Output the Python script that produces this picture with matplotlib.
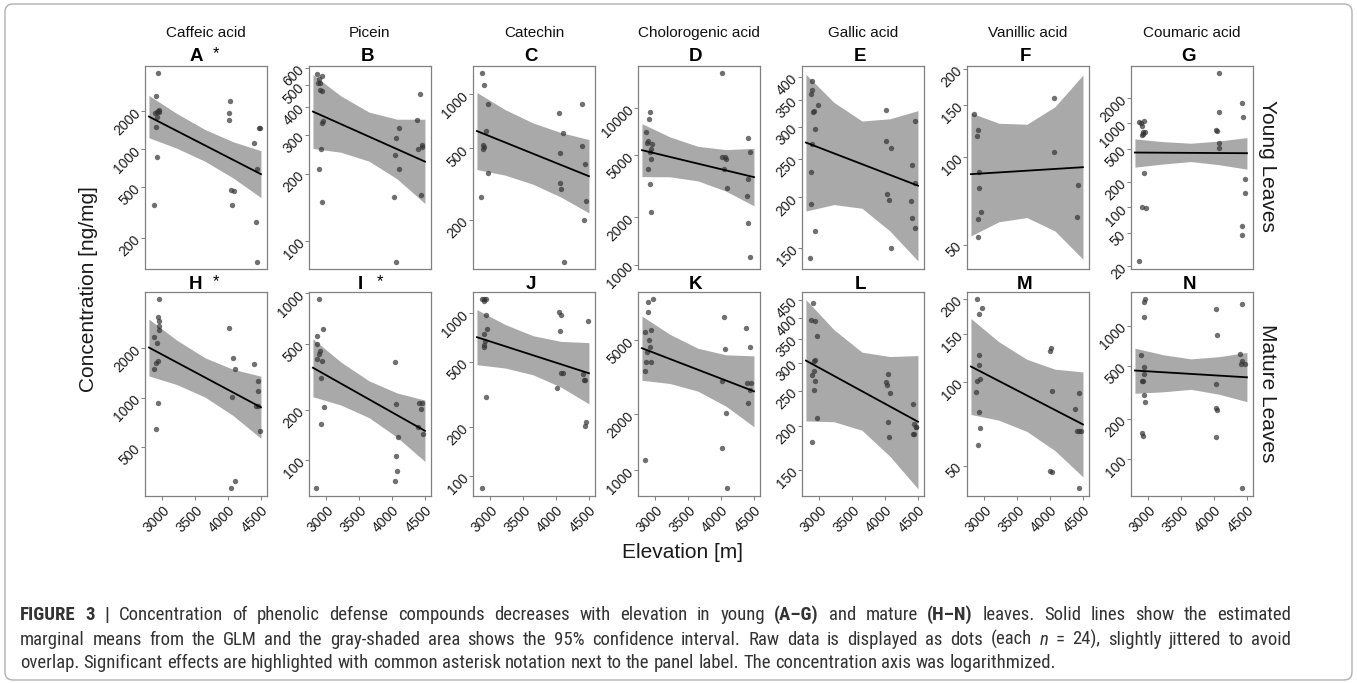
import os

import matplotlib.pyplot as plt
from matplotlib import font_manager
from matplotlib.font_manager import FontProperties
from matplotlib.patches import FancyBboxPatch
from matplotlib.ticker import NullLocator
from matplotlib.transforms import IdentityTransform

plt.rcParams['font.family'] = ['Liberation Sans', 'DejaVu Sans']

# elevations where the fitted line and the 95% CI band were read
fit_elev = [2800, 4500]
band_elev = [2800, 3225, 3650, 4075, 4500]
x_ticks = [3000, 3500, 4000, 4500]

compounds = ['Caffeic acid', 'Picein', 'Catechin', 'Cholorogenic acid',
             'Gallic acid', 'Vanillic acid', 'Coumaric acid']
letters_young = ['A', 'B', 'C', 'D', 'E', 'F', 'G']
letters_mature = ['H', 'I', 'J', 'K', 'L', 'M', 'N']
significant = ['A', 'H', 'I']

# ---- young leaves ----
A_elev = [2934, 2903, 2934, 2959, 2949, 2893, 2918, 2903, 2918, 2883, 2929, 4031, 4021, 4021, 4051, 4087, 4066, 4398, 4470, 4480, 4439, 4424, 4434]
A_conc = [3990, 2610, 2000, 2020, 1970, 1930, 1780, 1500, 870, 362, 1940, 2400, 1930, 1680, 478, 462, 358, 1120, 1450, 1450, 696, 263, 129]
A_fit = [1797, 632]
A_lo = [1224, 1010, 799, 591, 413]
A_hi = [2638, 1896, 1421, 1139, 967]
A_ticks = [200, 500, 1000, 2000]
A_ylim = (113, 4500)

B_elev = [2857, 2934, 2888, 2903, 2872, 2903, 2934, 2954, 2944, 2918, 2893, 2939, 4102, 4061, 4041, 4102, 4026, 4066, 4419, 4383, 4398, 4459, 4459, 4444]
B_conc = [560, 553, 532, 511, 512, 476, 474, 346, 340, 259, 210, 149, 321, 291, 243, 211, 157, 80.5, 457, 349, 258, 270, 263, 160]
B_fit = [381, 227]
B_lo = [260, 250, 228, 190, 147]
B_hi = [559, 448, 379, 352, 352]
B_ticks = [100, 200, 300, 400, 500, 600]
B_ylim = (74.6, 611)

C_elev = [2883, 2913, 2969, 2939, 2893, 2893, 2913, 2969, 2867, 4041, 4107, 4061, 4066, 4082, 4118, 4393, 4388, 4439, 4459, 4419]
C_conc = [1313, 1117, 877, 626, 521, 493, 510, 366, 270, 781, 605, 469, 322, 296, 117, 877, 517, 407, 256, 199]
C_fit = [623, 350]
C_lo = [381, 355, 316, 268, 219]
C_hi = [1019, 820, 691, 611, 559]
C_ticks = [200, 500, 1000]
C_ylim = (107, 1430)

D_elev = [2918, 2903, 2867, 2888, 2878, 2954, 2939, 2918, 2934, 2898, 2918, 2944, 4015, 4015, 4066, 4077, 4051, 4092, 4414, 4434, 4414, 4388, 4408, 4439]
D_conc = [9340, 8430, 7040, 6140, 5960, 5850, 5460, 5180, 4700, 4080, 3270, 2180, 16690, 4880, 4880, 4700, 4060, 3100, 6450, 5250, 3520, 2745, 1840, 1120]
D_fit = [5360, 3610]
D_lo = [3638, 3626, 3415, 2940, 2368]
D_hi = [7900, 6507, 5668, 5401, 5503]
D_ticks = [1000, 2000, 5000, 10000]
D_ylim = (939, 18400)

E_elev = [2893, 2888, 2883, 2913, 2929, 2985, 2934, 2888, 2883, 2883, 2944, 2857, 4021, 4021, 4097, 4031, 4056, 4092, 4449, 4413, 4454, 4388, 4413, 4449]
E_conc = [389, 371, 361, 327, 329, 339, 296, 271, 232, 193, 165, 141, 330, 277, 265, 204, 197, 150, 310, 241, 217, 196, 178, 168]
E_fit = [274, 214]
E_lo = [185, 192, 188, 165, 139]
E_hi = [405, 345, 310, 314, 329]
E_ticks = [150, 200, 250, 300, 350, 400]
E_ylim = (132.7, 425)

F_elev = [2847, 2903, 2898, 2929, 2929, 2949, 2913, 2913, 4061, 4061, 4419, 4403]
F_conc = [140, 123, 118, 88.9, 78.4, 64.6, 61.3, 53.1, 159, 103.5, 80.0, 62.3]
F_fit = [87.1, 92]
F_lo = [53.6, 59.9, 61.9, 55.7, 44.6]
F_hi = [141, 130, 129, 148, 190]
F_ticks = [50, 100, 150, 200]
F_ylim = (41.3, 204)

G_elev = [2867, 2898, 2934, 2913, 2918, 2949, 2903, 2929, 2934, 2913, 2964, 2862, 4082, 4036, 4046, 4082, 4077, 4072, 4424, 4434, 4475, 4464, 4419, 4424]
G_conc = [1028, 1000, 1066, 930, 797, 782, 727, 747, 260, 101, 98.2, 22.9, 3990, 833, 818, 1350, 579, 514, 1758, 1178, 217, 148, 60.6, 47.4]
G_fit = [449, 441]
G_lo = [301, 328, 351, 322, 285]
G_hi = [652, 605, 579, 615, 676]
G_ticks = [20, 50, 100, 200, 500, 1000, 2000]
G_ylim = (18.6, 4784)

# ---- mature leaves ----
H_elev = [2954, 2944, 2959, 2949, 2954, 2883, 2918, 2944, 2908, 2883, 2944, 2908, 4021, 4077, 4102, 4056, 4041, 4107, 4388, 4449, 4454, 4424, 4449, 4485]
H_conc = [4000, 3090, 2947, 2720, 2596, 2341, 2171, 1685, 1623, 1505, 932, 640, 2658, 1758, 1505, 1014, 281, 310, 1600, 1265, 1098, 893, 893, 628]
H_fit = [2023, 873]
H_lo = [1357, 1201, 1008, 779, 564]
H_hi = [3016, 2240, 1752, 1490, 1352]
H_ticks = [500, 1000, 2000]
H_ylim = (251, 4415)

I_elev = [2888, 2959, 2857, 2862, 2913, 2888, 2862, 2944, 2923, 2974, 2923, 2852, 4051, 4066, 4087, 4066, 4077, 4046, 4408, 4459, 4444, 4398, 4470]
I_conc = [920, 611, 557, 499, 451, 431, 402, 393, 309, 209, 164, 68.2, 389, 216, 138, 106, 86.3, 74.8, 220, 220, 203, 158, 143]
I_fit = [358, 150]
I_lo = [240, 214, 180, 137.5, 98.4]
I_hi = [533, 387, 299, 253, 229]
I_ticks = [100, 200, 500, 1000]
I_ylim = (61.1, 1017)

J_elev = [2872, 2908, 2934, 2903, 2934, 2959, 2908, 2929, 2908, 2913, 2934, 2883, 4041, 4077, 4056, 4077, 4107, 4021, 4485, 4413, 4424, 4439, 4449, 4444]
J_conc = [1220, 1220, 1220, 1180, 967, 797, 743, 675, 638, 620, 307, 84.3, 1009, 977, 778, 427, 427, 345, 889, 421, 388, 388, 215, 202]
J_fit = [711, 427]
J_lo = [482, 460, 418, 351, 277]
J_hi = [1049, 852, 726, 670, 658]
J_ticks = [100, 200, 500, 1000]
J_ylim = (75.3, 1347)

K_elev = [2969, 2898, 2893, 2842, 2934, 2908, 2918, 2883, 2934, 2857, 2847, 2847, 4051, 4066, 4015, 4077, 4015, 4092, 4383, 4439, 4388, 4449, 4439, 4413]
K_conc = [8270, 7940, 7040, 5540, 5610, 4960, 4600, 4290, 3790, 3780, 3400, 1141, 6600, 4450, 3010, 2017, 1318, 804, 5775, 4565, 2924, 2924, 2692, 2301]
K_fit = [4510, 2650]
K_lo = [3035, 2917, 2653, 2205, 1711]
K_hi = [6703, 5347, 4505, 4155, 4104]
K_ticks = [1000, 2000, 5000]
K_ylim = (728, 9020)

L_elev = [2913, 2883, 2944, 2969, 2939, 2923, 2929, 2888, 2939, 2923, 2969, 2898, 4041, 4021, 4031, 4082, 4041, 4061, 4429, 4439, 4464, 4475, 4424, 4439]
L_conc = [441, 396, 393, 357, 306, 304, 285, 277, 267, 252, 210, 180, 279, 264, 260, 247, 205, 186, 230, 202, 198, 198, 190, 190]
L_fit = [304, 205]
L_lo = [206, 205, 194, 164, 133]
L_hi = [450, 371, 321, 312, 314]
L_ticks = [150, 200, 250, 300, 350, 400, 450]
L_ylim = (127, 473)

M_elev = [2898, 2923, 2964, 2929, 2918, 2888, 2939, 2878, 2918, 2939, 2913, 4021, 4000, 4026, 4000, 4026, 4434, 4383, 4403, 4444, 4465, 4434]
M_conc = [200, 177, 186, 125, 115, 101.4, 102.8, 92.5, 78.2, 68.1, 59.2, 133, 130, 93, 47.8, 47.4, 91.2, 79.8, 66.8, 66.8, 66.8, 41.5]
M_fit = [114, 70.4]
M_lo = [76.5, 72.9, 66.4, 56.6, 45.5]
M_hi = [170, 140, 121, 111.5, 109]
M_ticks = [50, 100, 150, 200]
M_ylim = (38.8, 212)

N_elev = [2959, 2934, 2934, 2893, 2944, 2934, 2918, 2908, 2944, 2949, 2913, 2923, 4036, 4046, 4036, 4031, 4041, 4031, 4424, 4398, 4429, 4413, 4475, 4429]
N_conc = [1590, 1500, 1156, 604, 493, 431, 386, 386, 301, 268, 157, 148, 1344, 845, 367, 239, 232, 146, 1458, 611, 544, 513, 516, 60]
N_fit = [460, 409]
N_lo = [310, 318, 332, 305, 268]
N_hi = [678, 605, 563, 585, 629]
N_ticks = [100, 200, 500, 1000]
N_ylim = (52.2, 1796)

young = [
    (A_elev, A_conc, A_fit, A_lo, A_hi, A_ticks, A_ylim),
    (B_elev, B_conc, B_fit, B_lo, B_hi, B_ticks, B_ylim),
    (C_elev, C_conc, C_fit, C_lo, C_hi, C_ticks, C_ylim),
    (D_elev, D_conc, D_fit, D_lo, D_hi, D_ticks, D_ylim),
    (E_elev, E_conc, E_fit, E_lo, E_hi, E_ticks, E_ylim),
    (F_elev, F_conc, F_fit, F_lo, F_hi, F_ticks, F_ylim),
    (G_elev, G_conc, G_fit, G_lo, G_hi, G_ticks, G_ylim),
]
mature = [
    (H_elev, H_conc, H_fit, H_lo, H_hi, H_ticks, H_ylim),
    (I_elev, I_conc, I_fit, I_lo, I_hi, I_ticks, I_ylim),
    (J_elev, J_conc, J_fit, J_lo, J_hi, J_ticks, J_ylim),
    (K_elev, K_conc, K_fit, K_lo, K_hi, K_ticks, K_ylim),
    (L_elev, L_conc, L_fit, L_lo, L_hi, L_ticks, L_ylim),
    (M_elev, M_conc, M_fit, M_lo, M_hi, M_ticks, M_ylim),
    (N_elev, N_conc, N_fit, N_lo, N_hi, N_ticks, N_ylim),
]

W, H = 1357, 683
fig = plt.figure(figsize=(W / 100, H / 100), dpi=100)


def fx(px):
    return px / W


def fy(py):
    return 1 - py / H


# layout in pixels of the reference
col_left = [145, 309, 473, 638, 802, 967, 1131]
panel_w = 122
rows = [(66, 269), (292, 496)]
frame_col = '#808080'
text_col = '#1a1a1a'

for r, (top, bot) in enumerate(rows):
    data = young if r == 0 else mature
    letters = letters_young if r == 0 else letters_mature
    for c in range(7):
        elev, conc, fit, lo, hi, ticks, ylim = data[c]
        ax = fig.add_axes([fx(col_left[c]), fy(bot), panel_w / W, (bot - top) / H])
        ax.fill_between(band_elev, lo, hi, color='#a9a9a9', lw=0, zorder=1)
        ax.scatter(elev, conc, s=15, color='#333333', alpha=0.7, lw=0, zorder=2)
        ax.plot(fit_elev, fit, color='black', lw=1.3, zorder=3)
        ax.set_yscale('log')
        ax.set_xlim(2740, 4592)
        ax.set_ylim(*ylim)
        ax.yaxis.set_minor_locator(NullLocator())
        ax.xaxis.set_minor_locator(NullLocator())
        ax.set_yticks(ticks, labels=[str(t) for t in ticks], rotation=45,
                      ha='right', va='center', rotation_mode='anchor')
        ax.set_xticks(x_ticks, labels=[str(t) for t in x_ticks], rotation=45,
                      ha='right', va='top', rotation_mode='anchor')
        ax.tick_params(length=3, width=0.7, color=frame_col, labelsize=10,
                       labelcolor=text_col, pad=2)
        if r == 0:
            ax.tick_params(axis='x', bottom=False, labelbottom=False)
        for sp in ax.spines.values():
            sp.set_color(frame_col)
            sp.set_linewidth(0.9)

        cx = col_left[c] + panel_w / 2
        if r == 0:
            fig.text(fx(cx), fy(37), compounds[c], fontsize=11, ha='center',
                     va='baseline', color='#111111')
        lab = letters[c]
        base = top - 5 if r == 0 else top - 3
        if lab in significant:
            fig.text(fx(cx - 10), fy(base), lab, fontsize=13.5, weight='bold',
                     ha='center', va='baseline', color='black')
            fig.text(fx(cx + 10), fy(base - 3), '*', fontsize=12, ha='center',
                     va='baseline', color='black')
        else:
            fig.text(fx(cx - 3), fy(base), lab, fontsize=13.5, weight='bold',
                     ha='center', va='baseline', color='black')

# axis titles and strip labels
fig.text(fx(88), fy(289), 'Concentration [ng/mg]', fontsize=15, rotation=90,
         ha='center', va='center', color=text_col)
fig.text(fx(682), fy(552), 'Elevation [m]', fontsize=15, ha='center',
         va='center', color=text_col)
fig.text(fx(1268), fy(166), 'Young Leaves', fontsize=15, rotation=-90,
         ha='center', va='center', color=text_col)
fig.text(fx(1268), fy(393), 'Mature Leaves', fontsize=15, rotation=-90,
         ha='center', va='center', color=text_col)

# ---- caption (justified, narrow face if one is installed) ----
ttf_files = [f.fname for f in font_manager.fontManager.ttflist]


def find_face(prefix, suffixes):
    for p in ttf_files:
        b = os.path.basename(p).lower().replace('-', '').replace('_', '')
        stem, ext = os.path.splitext(b)
        if ext in ('.ttf', '.otf') and stem in [prefix + s for s in suffixes]:
            return p
    return None


cap_files = None
for prefix in ['liberationsansnarrow', 'robotocondensed', 'notosanssemicondensed',
               'notosanscondensed', 'dejavusanscondensed']:
    reg = find_face(prefix, ['', 'regular'])
    bold = find_face(prefix, ['bold'])
    if reg and bold:
        ital = find_face(prefix, ['italic', 'oblique']) or reg
        cap_files = {'regular': reg, 'bold': bold, 'italic': ital}
        break

cap_col = '#333333'


def cap_kw(weight, style, size):
    if cap_files:
        key = 'bold' if weight == 'bold' else ('italic' if style == 'italic' else 'regular')
        return dict(fontproperties=FontProperties(fname=cap_files[key], size=size))
    return dict(family='Liberation Sans', weight=weight, style=style, fontsize=size)


cap_lines = [
    [('FIGURE 3 | ', 'bold', 'normal'),
     ('Concentration of phenolic defense compounds decreases with elevation in young ', 'normal', 'normal'),
     ('(A–G)', 'bold', 'normal'),
     (' and mature ', 'normal', 'normal'),
     ('(H–N)', 'bold', 'normal'),
     (' leaves. Solid lines show the estimated', 'normal', 'normal')],
    [('marginal means from the GLM and the gray-shaded area shows the 95% confidence interval. '
      'Raw data is displayed as dots (each ', 'normal', 'normal'),
     ('n', 'normal', 'italic'),
     (' = 24), slightly jittered to avoid', 'normal', 'normal')],
    [('overlap. Significant effects are highlighted with common asterisk notation next to the '
      'panel label. The concentration axis was logarithmized.', 'normal', 'normal')],
]
cap_base = [620, 645, 668]
cap_justify = [True, True, False]
cap_left, cap_right, last_right = 20, 1291, 1051

renderer = fig.canvas.get_renderer()


def text_w(s, size, weight, style):
    t = fig.text(0, 0, '|' + s + '|', **cap_kw(weight, style, size))
    w1 = t.get_window_extent(renderer).width
    t.remove()
    t = fig.text(0, 0, '||', **cap_kw(weight, style, size))
    w2 = t.get_window_extent(renderer).width
    t.remove()
    return w1 - w2


def tokenize(line):
    toks = []
    pending = False
    for s, wt, st in line:
        for i, p in enumerate(s.split(' ')):
            if i > 0:
                pending = True
            if p:
                toks.append((p, wt, st, pending and len(toks) > 0))
                pending = False
    return toks


def natural_width(toks, size):
    sp = text_w(' ', size, 'normal', 'normal')
    return sum(text_w(p, size, wt, st) + (sp if gap else 0) for p, wt, st, gap in toks)


# last line is set at its natural width, so it fixes the font size
cap_size = 10 * (last_right - cap_left) / natural_width(tokenize(cap_lines[2]), 10)
space_w = text_w(' ', cap_size, 'normal', 'normal')

for line, yb, just in zip(cap_lines, cap_base, cap_justify):
    toks = tokenize(line)
    widths = [text_w(p, cap_size, wt, st) for p, wt, st, g in toks]
    n_gaps = sum(1 for t in toks if t[3])
    gap = (cap_right - cap_left - sum(widths)) / n_gaps if just else space_w
    x = cap_left
    for (p, wt, st, g), w in zip(toks, widths):
        if g:
            x += gap
        fig.text(fx(x), fy(yb), p, ha='left', va='baseline', color=cap_col,
                 **cap_kw(wt, st, cap_size))
        x += w

frame = FancyBboxPatch((5, 3), W - 10, H - 7, boxstyle='round,pad=0,rounding_size=8',
                       transform=IdentityTransform(), fill=False, ec='#b0b0b0', lw=1)
fig.add_artist(frame)

fig.savefig('out.png', dpi=100)
